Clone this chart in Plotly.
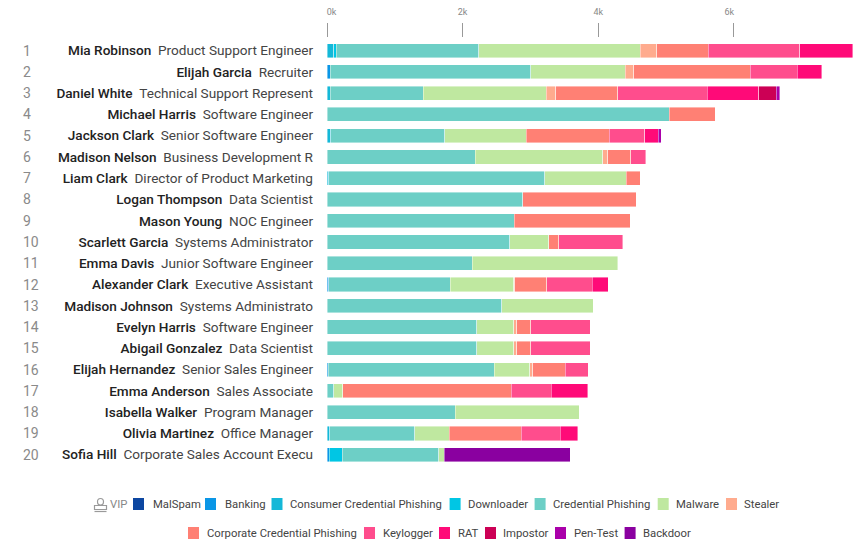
import plotly.graph_objects as go

ranks = list(range(1, 21))
names = ["Mia Robinson", "Elijah Garcia", "Daniel White", "Michael Harris", "Jackson Clark",
         "Madison Nelson", "Liam Clark", "Logan Thompson", "Mason Young", "Scarlett Garcia",
         "Emma Davis", "Alexander Clark", "Madison Johnson", "Evelyn Harris", "Abigail Gonzalez",
         "Elijah Hernandez", "Emma Anderson", "Isabella Walker", "Olivia Martinez", "Sofia Hill"]
titles = ["Product Support Engineer", "Recruiter", "Technical Support Represent", "Software Engineer",
          "Senior Software Engineer", "Business Development R", "Director of Product Marketing",
          "Data Scientist", "NOC Engineer", "Systems Administrator", "Junior Software Engineer",
          "Executive Assistant", "Systems Administrato", "Software Engineer", "Data Scientist",
          "Senior Sales Engineer", "Sales Associate", "Program Manager", "Office Manager",
          "Corporate Sales Account Execu"]

malspam    = [0] * 20
banking    = [0, 50, 0, 0, 0, 0, 0, 0, 0, 0, 0, 25, 0, 0, 0, 20, 0, 0, 0, 35]
consumer   = [100, 0, 50, 0, 55, 0, 25, 0, 0, 0, 0, 0, 0, 0, 0, 0, 0, 0, 40, 0]
downloader = [40, 0, 0, 0, 0, 0, 0, 0, 0, 0, 0, 0, 0, 0, 0, 0, 0, 0, 0, 187]
credential = [2100, 2955, 1372, 5045, 1683, 2186, 3186, 2884, 2764, 2696, 2145, 1792, 2575, 2210, 2210, 2447, 100, 1889, 1256, 1428]
malware    = [2377, 1392, 1809, 0, 1201, 1884, 1206, 0, 0, 571, 2142, 935, 1349, 542, 542, 522, 133, 1832, 507, 79]
stealer    = [246, 130, 146, 0, 0, 70, 0, 0, 0, 0, 0, 15, 0, 49, 49, 44, 0, 0, 0, 0]
corporate  = [759, 1714, 910, 678, 1221, 337, 201, 1678, 1709, 148, 0, 473, 0, 207, 207, 483, 2487, 0, 1059, 0]
keylogger  = [1352, 693, 1322, 0, 523, 221, 0, 0, 0, 950, 0, 670, 0, 872, 872, 335, 591, 0, 581, 0]
rat        = [779, 362, 759, 0, 206, 0, 0, 0, 0, 0, 0, 241, 0, 0, 0, 0, 537, 0, 256, 0]
impostor   = [0, 0, 256, 0, 0, 0, 0, 0, 0, 0, 0, 0, 0, 0, 0, 0, 0, 0, 0, 0]
pentest    = [0, 0, 50, 0, 40, 0, 0, 0, 0, 0, 0, 0, 0, 0, 0, 0, 0, 0, 0, 0]
backdoor   = [0] * 19 + [1861]

series = [("MalSpam", malspam, "#0d47a1"), ("Banking", banking, "#0a96e6"),
          ("Consumer Credential Phishing", consumer, "#14b8d8"), ("Downloader", downloader, "#00c6e4"),
          ("Credential Phishing", credential, "#6dcfc6"), ("Malware", malware, "#bfe8a0"),
          ("Stealer", stealer, "#ffab8e"), ("Corporate Credential Phishing", corporate, "#ff8074"),
          ("Keylogger", keylogger, "#ff4d8d"), ("RAT", rat, "#ff0a78"),
          ("Impostor", impostor, "#cc0055"), ("Pen-Test", pentest, "#aa00aa"),
          ("Backdoor", backdoor, "#8a00a0")]

x_ticks = [0, 2000, 4000, 6000]
x_labels = ["\u00a0\u00a0\u00a0\u00a00k", "2k", "4k", "6k\u00a0\u00a0\u00a0\u00a0"]

W, H = 853, 552
L, T, B = 327, 38, 470
FONT = "Roboto"

def px(v):
    return (v - L) / (W - L)

def py(v):
    return (B - v) / (B - T)

fig = go.Figure()
for name, vals, color in series:
    # empty segments are left out so they paint no outline at the bar start
    fig.add_trace(go.Bar(name=name, y=ranks, x=[v if v else None for v in vals], orientation="h",
                         marker=dict(color=color, line=dict(color="rgba(255,255,255,0.7)", width=0.6))))

ticktext = [f"<span style='font-weight:500;color:#222'>{n}</span>\u00a0\u00a0<span style='color:#444'>{t}</span>"
            for n, t in zip(names, titles)]

annotations = [dict(xref="paper", yref="y", x=px(22), y=r, text=str(r), showarrow=False,
                    xanchor="left", yanchor="middle", xshift=-1,
                    font=dict(family=FONT, size=14, color="#8a8a8a")) for r in ranks]

legend_rows = [
    (504, [("MalSpam", 133, 153.5), ("Banking", 205, 225.6), ("Consumer Credential Phishing", 271.5, 291),
           ("Downloader", 449.6, 469), ("Credential Phishing", 534.6, 554), ("Malware", 657.7, 677),
           ("Stealer", 726, 745)]),
    (533, [("Corporate Credential Phishing", 188, 207.7), ("Keylogger", 364, 383.5), ("RAT", 439, 459),
           ("Impostor", 485, 504), ("Pen-Test", 555, 574.5), ("Backdoor", 624.6, 644)]),
]
colors = {n: c for n, _, c in series}
shapes = []
for yc, items in legend_rows:
    for n, sx, tx in items:
        shapes.append(dict(type="rect", xref="paper", yref="paper", x0=px(sx), x1=px(sx + 11),
                           y0=py(yc + 6), y1=py(yc - 6), fillcolor=colors[n], line=dict(width=0)))
        annotations.append(dict(xref="paper", yref="paper", x=px(tx), y=py(yc), text=n, showarrow=False,
                                xanchor="left", yanchor="middle", xshift=-3,
                                font=dict(family=FONT, size=11.3, color="#444")))

annotations.append(dict(xref="paper", yref="paper", x=px(111), y=py(504), text="VIP", showarrow=False,
                        xanchor="left", yanchor="middle", xshift=-3, font=dict(family=FONT, size=11.3, color="#888")))
# person icon next to the legend
icon_line = dict(color="#9a9a9a", width=1.2)
shapes += [
    dict(type="circle", xref="paper", yref="paper", x0=px(97.5), x1=px(103.5), y0=py(505), y1=py(498.5), line=icon_line),
    dict(type="rect", xref="paper", yref="paper", x0=px(94.5), x1=px(106.5), y0=py(509.5), y1=py(505.5), line=icon_line),
    dict(type="line", xref="paper", yref="paper", x0=px(94.5), x1=px(106.5), y0=py(511.5), y1=py(511.5), line=icon_line),
]

fig.update_layout(
    barmode="stack", bargap=0.333, width=W, height=H, showlegend=False,
    margin=dict(l=L, r=0, t=T, b=H - B, autoexpand=False),
    paper_bgcolor="white", plot_bgcolor="white",
    font=dict(family=FONT),
    xaxis=dict(side="top", range=[0, (W - L) / 0.0678], tickmode="array", tickvals=x_ticks, ticktext=x_labels,
               ticks="outside", ticklen=14, tickwidth=1, tickcolor="#999", showgrid=False, zeroline=False,
               showline=False, tickfont=dict(family=FONT, size=9, color="#888"), ticklabelstandoff=4),
    yaxis=dict(range=[20.72, 0.408], tickmode="array", tickvals=ranks, ticktext=ticktext, ticks="",
               showgrid=False, zeroline=False, showline=False, ticklabelstandoff=13,
               tickfont=dict(family=FONT, size=13.6)),
    annotations=annotations, shapes=shapes,
)
fig.write_html("out.html", config={"displayModeBar": False},
               post_script="document.body.style.margin='0';document.body.style.overflow='hidden';")
